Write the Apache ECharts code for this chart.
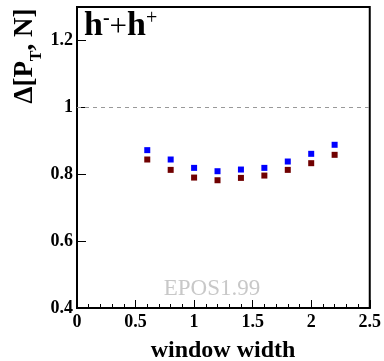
<!DOCTYPE html>
<html>
<head>
<meta charset="utf-8">
<script src="https://cdn.jsdelivr.net/npm/echarts@6/dist/echarts.min.js"></script>
<style>
  html, body { margin: 0; padding: 0; background: #fff; }
  #myChart { width: 384px; height: 361px; }
</style>
</head>
<body>
<div id="myChart"></div>
<script>
// window widths (x) and the two point sets
var windowWidth = [0.6, 0.8, 1.0, 1.2, 1.4, 1.6, 1.8, 2.0, 2.2];
var blueVals = [0.872, 0.844, 0.819, 0.809, 0.814, 0.819, 0.838, 0.861, 0.888];
var redVals = [0.844, 0.813, 0.790, 0.782, 0.789, 0.796, 0.813, 0.833, 0.858];
var refLine = 1;

var font = "'Liberation Serif', 'DejaVu Serif', serif";

function pairs(xs, ys) {
  return xs.map(function (x, i) { return [x, ys[i]]; });
}

var chartDom = document.getElementById("myChart");
var myChart = echarts.init(chartDom);

var option = {
  animation: false,
  grid: {
    left: 77,
    right: 12,
    top: 7,
    bottom: 53,
    show: true,
    borderColor: "#000",
    borderWidth: 2,
  },
  xAxis: {
    type: "value",
    min: 0,
    max: 2.5,
    interval: 0.5,
    axisLine: { lineStyle: { color: "#000", width: 2 } },
    axisTick: { inside: true, length: 8, lineStyle: { color: "#000" } },
    minorTick: { show: true, splitNumber: 5, length: 4, lineStyle: { color: "#000" } },
    splitLine: { show: false },
    axisLabel: {
      margin: 5,
      color: "#000",
      fontFamily: font,
      fontWeight: "bold",
      fontSize: 18,
    },
  },
  yAxis: {
    type: "value",
    min: 0.4,
    max: 1.3,
    interval: 0.2,
    axisLine: { lineStyle: { color: "#000", width: 2 } },
    axisTick: { inside: true, length: 9, lineStyle: { color: "#000" } },
    splitLine: { show: false },
    axisLabel: {
      margin: 4,
      showMaxLabel: false,
      color: "#000",
      fontFamily: font,
      fontWeight: "bold",
      fontSize: 18,
    },
  },
  graphic: [
    {
      type: "text",
      x: 223,
      y: 351,
      style: {
        text: "window width",
        font: "bold 24px " + font,
        fill: "#000",
        align: "center",
        verticalAlign: "middle",
      },
    },
    {
      type: "text",
      x: 25,
      y: 56,
      rotation: Math.PI / 2,
      style: {
        text: "{m|Δ[P}{s|T}{m|, N]}",
        align: "center",
        verticalAlign: "middle",
        rich: {
          m: { font: "bold 27px " + font, fill: "#000", verticalAlign: "bottom" },
          s: { font: "bold 16px " + font, fill: "#000", verticalAlign: "bottom", padding: [0, 0, -6, 0] },
        },
      },
    },
    {
      type: "text",
      x: 84,
      y: 9,
      style: {
        text: "{m|h}{p|-}{q|+}{m|h}{r|+}",
        align: "left",
        verticalAlign: "top",
        rich: {
          m: { font: "bold 34px " + font, fill: "#000", verticalAlign: "bottom" },
          q: { font: "31px " + font, fill: "#000", verticalAlign: "bottom" },
          p: { font: "bold 20px " + font, fill: "#000", verticalAlign: "top" },
          r: { font: "20px " + font, fill: "#000", verticalAlign: "top" },
        },
      },
    },
    {
      type: "text",
      x: 212,
      y: 289,
      style: {
        text: "EPOS1.99",
        font: "23px " + font,
        fill: "#c8c8c8",
        align: "center",
        verticalAlign: "middle",
      },
    },
  ],
  series: [
    {
      name: "blue",
      type: "scatter",
      symbol: "rect",
      symbolSize: 6,
      itemStyle: { color: "#0000ff", opacity: 1 },
      data: pairs(windowWidth, blueVals),
      markLine: {
        silent: true,
        symbol: "none",
        label: { show: false },
        lineStyle: { color: "#999", type: [4, 4], width: 1 },
        data: [{ yAxis: refLine }],
      },
    },
    {
      name: "red",
      type: "scatter",
      symbol: "rect",
      symbolSize: 6,
      itemStyle: { color: "#700000", opacity: 1 },
      data: pairs(windowWidth, redVals),
    },
  ],
};

myChart.setOption(option);
</script>
</body>
</html>
